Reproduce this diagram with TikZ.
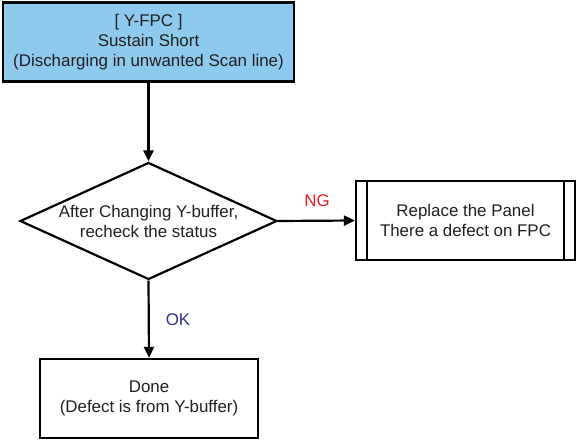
\documentclass[tikz,border=0pt]{standalone}
\usepackage{fontspec}
\setmainfont{Liberation Sans}
\usetikzlibrary{shapes.geometric,arrows.meta}
\definecolor{boxblue}{RGB}{142,202,238}
\definecolor{txtgray}{RGB}{35,31,32}
\definecolor{ngred}{RGB}{237,28,36}
\definecolor{okblue}{RGB}{46,49,146}
\tikzset{
  x=1pt,y=-1pt,
  every node/.style={font=\fontsize{16.9}{20}\selectfont, text=txtgray, align=center},
  procbox/.style={draw=black, line width=2.2pt, inner sep=0pt, minimum height=79pt},
  decbox/.style={draw=black, line width=2.2pt, diamond, inner sep=0pt, minimum width=257pt, minimum height=117pt},
  flow/.style={draw=black, line width=2.2pt, -{Triangle[length=11pt,width=10pt]}},
}
\begin{document}
\begin{tikzpicture}
\useasboundingbox (0,0) rectangle (576,440);
\node[procbox, fill=boxblue, minimum width=291pt] (top) at (148.5,42) {[ Y-FPC ]\\Sustain Short\\(Discharging in unwanted Scan line)};
\node[decbox] (dec) at (148.5,221) {};
\node (dectext) at (148.5,221) {After Changing Y-buffer,\\recheck the status};
\node[procbox, minimum width=219pt] (repl) at (465.5,220.5) {Replace the Panel\\There a defect on FPC};
\draw[line width=2.2pt] ([xshift=12pt]repl.north west) -- ([xshift=12pt]repl.south west);
\draw[line width=2.2pt] ([xshift=-12pt]repl.north east) -- ([xshift=-12pt]repl.south east);
\node[procbox, minimum width=218pt] (done) at (149,398.5) {Done\\(Defect is from Y-buffer)};
\draw[flow] (top.south) -- (dec.north);
\draw[flow] (dec.east) -- (repl.west);
\draw[flow] (dec.south) -- (done.north);
\node[text=ngred] (ng) at (317,201) {NG};
\node[text=okblue] (ok) at (178,320) {OK};
\end{tikzpicture}
\end{document}
